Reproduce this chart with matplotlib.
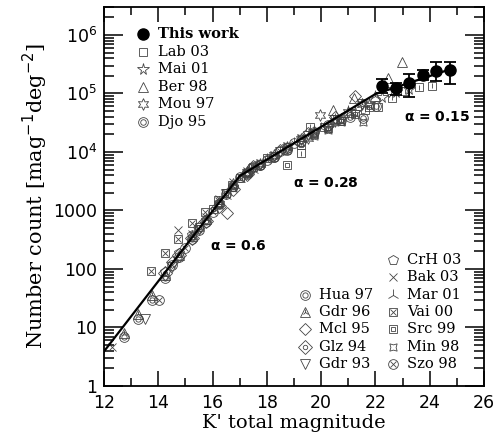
import matplotlib
matplotlib.use('Agg')
import matplotlib.pyplot as plt
from matplotlib.ticker import FixedLocator, LogLocator, NullFormatter

# power-law model drawn as the solid line
line_mag = [12.0, 17.0, 22.0, 24.75]
line_cnt = [3.9, 3890, 9.77e4, 2.58e5]

# this work, with asymmetric errors
tw_mag = [22.25, 22.75, 23.25, 23.75, 24.25, 24.75]
tw_cnt = [1.35e5, 1.23e5, 1.52e5, 2.08e5, 2.45e5, 2.5e5]
tw_hi = [1.75e5, 1.51e5, 2.15e5, 2.5e5, 3.5e5, 3.5e5]
tw_lo = [1.02e5, 9.4e4, 8.8e4, 1.7e5, 1.66e5, 1.44e5]

# literature counts
lab03_mag = [19.25, 19.6, 20.1, 20.6, 21.1, 21.6, 22.1, 22.6, 23.1, 23.6, 24.1]
lab03_cnt = [9500, 2.7e4, 2.7e4, 3.6e4, 4.6e4, 5.3e4, 5.9e4, 8.5e4, 1.1e5, 1.28e5, 1.35e5]
mai01_mag = [19.75, 20.25, 20.75, 21.25, 21.75, 22.25, 22.75, 23.25]
mai01_cnt = [2.3e4, 2.6e4, 3.6e4, 4.8e4, 6.5e4, 8.8e4, 1.05e5, 1.2e5]
ber98_mag = [20.45, 21.2, 22.0, 22.48, 22.97]
ber98_cnt = [5.2e4, 8.5e4, 9.0e4, 1.8e5, 3.5e5]
mou97_mag = [17.25, 17.75, 18.25, 18.75, 19.25, 19.5, 19.96, 20.5, 21.0, 21.5]
mou97_cnt = [4500, 6300, 8700, 1.2e4, 1.65e4, 1.75e4, 4.3e4, 3.4e4, 4.8e4, 6.7e4]
djo95_mag = [17.25, 17.75, 18.25, 18.75, 19.25, 19.75, 20.25, 20.75, 21.07, 21.55, 22.03]
djo95_cnt = [4200, 6000, 8200, 1.1e4, 1.55e4, 2.2e4, 2.9e4, 3.5e4, 4.0e4, 3.8e4, 6.1e4]
crh03_mag = [14.25, 14.75, 15.25, 15.75, 16.25, 16.75, 17.25, 17.75, 18.25, 18.75, 19.25, 19.75, 20.25]
crh03_cnt = [90, 190, 380, 700, 1350, 2500, 4400, 6000, 8100, 1.1e4, 1.5e4, 2.1e4, 2.8e4]
bak03_mag = [12.28, 14.74, 15.25, 15.75, 16.25, 16.75, 17.25, 17.75, 18.25, 18.75, 19.25]
bak03_cnt = [4.7, 465, 400, 760, 1600, 3100, 4800, 6500, 8900, 1.25e4, 1.75e4]
mar01_mag = [16.5, 17.0, 17.5, 18.0, 18.5, 19.0, 19.5, 20.0, 20.5, 21.0, 21.5, 22.0]
mar01_cnt = [1800, 3500, 5000, 7600, 9800, 1.45e4, 1.85e4, 2.6e4, 3.6e4, 5.0e4, 6.5e4, 9.0e4]
vai00_mag = [13.72, 14.25, 14.72, 15.24, 15.72, 16.21, 16.7]
vai00_cnt = [93, 190, 320, 620, 940, 1500, 2700]
src99_mag = [15.5, 16.0, 16.5, 17.0, 17.5, 18.0, 18.73, 19.25, 19.75, 20.25, 20.75, 21.25, 21.75]
src99_cnt = [520, 1050, 2000, 3600, 5600, 7800, 6000, 1.3e4, 2.0e4, 2.6e4, 3.4e4, 4.5e4, 5.8e4]
min98_mag = [16.25, 16.75, 17.25, 17.75, 18.25, 18.75, 19.25, 19.75, 20.25, 20.75, 21.55]
min98_cnt = [1250, 2400, 4600, 6600, 9000, 1.25e4, 1.7e4, 1.9e4, 2.4e4, 3.2e4, 3.3e4]
szo98_mag = [14.04, 14.5, 15.0, 15.5, 16.0, 16.5, 17.0, 17.5, 18.0, 18.5, 19.0]
szo98_cnt = [29, 115, 230, 470, 950, 1900, 3700, 5500, 7200, 1.05e4, 1.4e4]
hua97_mag = [12.75, 13.25, 13.75, 14.25, 14.75, 15.25, 15.75, 16.25, 16.75, 17.25, 17.75, 18.25, 18.75]
hua97_cnt = [6.8, 14, 30, 70, 160, 330, 640, 1300, 2600, 4300, 5900, 8300, 1.15e4]
gdr96_mag = [12.75, 13.25, 13.75, 14.25, 14.75, 15.25, 15.75, 16.25, 16.75, 17.25]
gdr96_cnt = [8, 17, 36, 80, 170, 360, 720, 1450, 2900, 4700]
mcl95_mag = [14.5, 15.5, 16.52, 17.5, 18.5, 19.5, 20.5, 21.25]
mcl95_cnt = [130, 520, 890, 5700, 1.1e4, 2.1e4, 4.0e4, 8.9e4]
glz94_mag = [14.25, 14.75, 15.25, 15.75, 16.25, 16.75, 17.25]
glz94_cnt = [85, 175, 345, 660, 1200, 2300, 4200]
gdr93_mag = [13.5, 14.5, 15.5, 16.5, 17.5, 18.5, 19.5, 20.5, 21.5, 22.5]
gdr93_cnt = [14, 110, 470, 1900, 5200, 1.0e4, 1.9e4, 3.5e4, 6.6e4, 1.05e5]

# marker looks: list of (marker, size) drawn on top of each other
styles = {
    'Lab 03': [('s', 5.5)],
    'Mai 01': [('*', 8.5)],
    'Ber 98': [('^', 7.5)],
    'Mou 97': [((6, 1, 0), 8.5)],
    'Djo 95': [('o', 7), ('o', 4)],
    'CrH 03': [('p', 7)],
    'Bak 03': [('x', 5.5)],
    'Mar 01': [('2', 8.5)],
    'Vai 00': [('s', 6), ('x', 4)],
    'Src 99': [('s', 6), ('s', 3)],
    'Min 98': [((4, 1, 45), 7.5)],
    'Szo 98': [('o', 7), ('x', 4.5)],
    'Hua 97': [('o', 7), ('o', 3.8)],
    'Gdr 96': [('^', 7.5), ('2', 4.5)],
    'Mcl 95': [('D', 6)],
    'Glz 94': [('D', 7), ('o', 3.2)],
    'Gdr 93': [('v', 6.5)],
}
sets = [
    ('Gdr 93', gdr93_mag, gdr93_cnt), ('Glz 94', glz94_mag, glz94_cnt),
    ('Mcl 95', mcl95_mag, mcl95_cnt), ('Gdr 96', gdr96_mag, gdr96_cnt),
    ('Hua 97', hua97_mag, hua97_cnt), ('Szo 98', szo98_mag, szo98_cnt),
    ('Min 98', min98_mag, min98_cnt), ('Src 99', src99_mag, src99_cnt),
    ('Vai 00', vai00_mag, vai00_cnt), ('Mar 01', mar01_mag, mar01_cnt),
    ('Bak 03', bak03_mag, bak03_cnt), ('CrH 03', crh03_mag, crh03_cnt),
    ('Djo 95', djo95_mag, djo95_cnt), ('Mou 97', mou97_mag, mou97_cnt),
    ('Ber 98', ber98_mag, ber98_cnt), ('Mai 01', mai01_mag, mai01_cnt),
    ('Lab 03', lab03_mag, lab03_cnt),
]

edge = '#444444'


def draw(ax, x, y, name, **kw):
    for m, s in styles[name]:
        ax.plot(x, y, ls='none', marker=m, ms=s, mfc='none', mec=edge,
                mew=0.6, **kw)


fig = plt.figure(figsize=(5.01, 4.42), dpi=100)
ax = fig.add_axes([104/501, 1-386/442, 380/501, 379/442])

ax.plot(line_mag, line_cnt, color='k', lw=1.6, zorder=3)

for name, xm, yc in sets:
    if name == 'Lab 03':
        lo = [c*0.1 for c in yc]
        ax.errorbar(xm, yc, yerr=[lo, lo], fmt='none', ecolor=edge, elinewidth=0.6)
    draw(ax, xm, yc, name, zorder=2)

err_lo = [c - l for c, l in zip(tw_cnt, tw_lo)]
err_hi = [h - c for c, h in zip(tw_cnt, tw_hi)]
ax.errorbar(tw_mag, tw_cnt, yerr=[err_lo, err_hi], fmt='o', color='k', ms=8,
            elinewidth=1.3, capsize=4, capthick=1.3, zorder=5)

ax.set_yscale('log')
ax.set_xlim(12, 26)
ax.set_ylim(1, 3e6)

ax.xaxis.set_major_locator(FixedLocator([12, 14, 16, 18, 20, 22, 24, 26]))
ax.xaxis.set_minor_locator(FixedLocator([13, 15, 17, 19, 21, 23, 25]))
ax.yaxis.set_major_locator(FixedLocator([1, 10, 100, 1000, 1e4, 1e5, 1e6]))
ax.yaxis.set_minor_locator(LogLocator(base=10, subs=range(2, 10), numticks=20))
ax.yaxis.set_minor_formatter(NullFormatter())
ax.set_yticklabels(['1', '10', '100', '1000', r'$10^4$', r'$10^5$', r'$10^6$'])
ax.set_xticklabels(['12', '14', '16', '18', '20', '22', '24', '26'])
ax.tick_params(which='both', direction='in', top=True, right=True,
               labelsize=12.5, width=1.1)
ax.tick_params(axis='x', which='major', length=11, pad=6)
ax.tick_params(axis='x', which='minor', length=6)
ax.tick_params(axis='y', which='major', length=14, pad=5)
ax.tick_params(axis='y', which='minor', length=7)
for s in ax.spines.values():
    s.set_linewidth(1.3)

ax.set_xlabel("K' total magnitude", family='DejaVu Serif', fontsize=14, labelpad=1)
ax.set_ylabel(r'Number count [mag$^{-1}$deg$^{-2}$]', family='DejaVu Serif',
              fontsize=15, labelpad=2)

# slope labels
ax.text(15.9, 245, r'$\mathbf{\alpha}$ = 0.6', fontsize=10, fontweight='bold', va='center')
ax.text(18.96, 2950, r'$\mathbf{\alpha}$ = 0.28', fontsize=10, fontweight='bold', va='center')
ax.text(23.05, 4.0e4, r'$\mathbf{\alpha}$ = 0.15', fontsize=10, fontweight='bold', va='center')

tf = ax.transAxes
# top-left key
ax.plot(0.103, 0.929, 'o', color='k', ms=8, transform=tf, clip_on=False)
ax.text(0.142, 0.929, 'This work', transform=tf, va='center', fontsize=10.5,
        family='DejaVu Serif', fontweight='bold')
key1 = ['Lab 03', 'Mai 01', 'Ber 98', 'Mou 97', 'Djo 95']
rows1 = [0.881, 0.836, 0.789, 0.744, 0.697]
for name, yy in zip(key1, rows1):
    draw(ax, 0.103, yy, name, transform=tf, clip_on=False)
    ax.text(0.142, yy, name, transform=tf, va='center', fontsize=10.5, family='DejaVu Serif')

# bottom-right key
key2 = ['Hua 97', 'Gdr 96', 'Mcl 95', 'Glz 94', 'Gdr 93']
rows2 = [0.240, 0.195, 0.150, 0.103, 0.058]
for name, yy in zip(key2, rows2):
    draw(ax, 0.529, yy, name, transform=tf)
    ax.text(0.565, yy, name, transform=tf, va='center', fontsize=10.5, family='DejaVu Serif')
key3 = ['CrH 03', 'Bak 03', 'Mar 01', 'Vai 00', 'Src 99', 'Min 98', 'Szo 98']
rows3 = [0.332, 0.288, 0.240, 0.195, 0.150, 0.103, 0.058]
for name, yy in zip(key3, rows3):
    draw(ax, 0.761, yy, name, transform=tf)
    ax.text(0.797, yy, name, transform=tf, va='center', fontsize=10.5, family='DejaVu Serif')

fig.savefig('out.png', dpi=100)
